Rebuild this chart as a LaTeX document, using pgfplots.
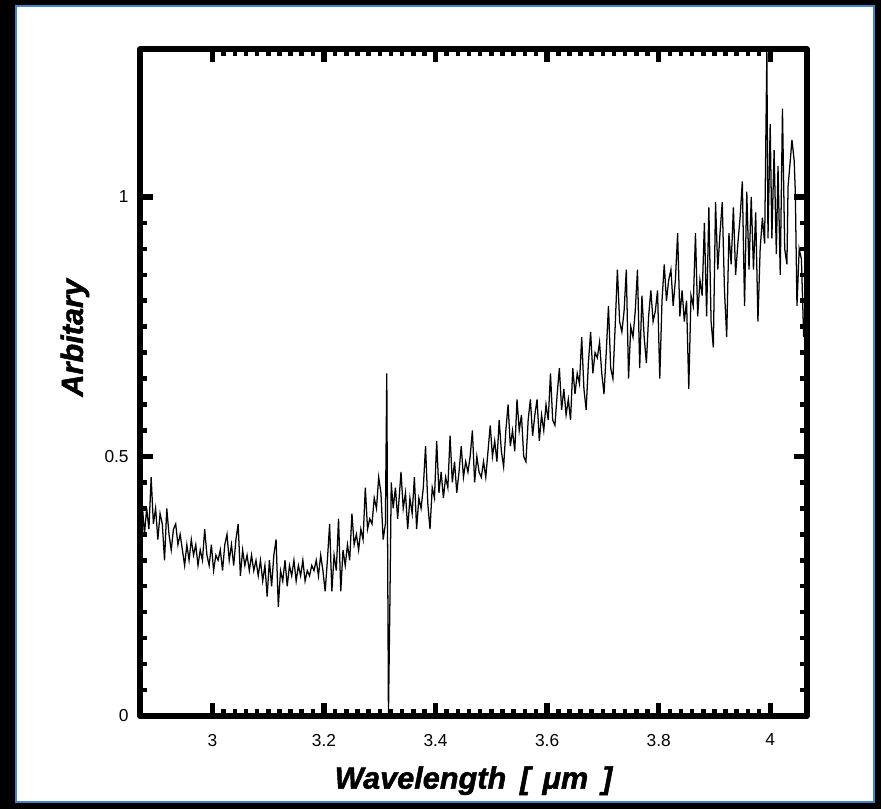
\documentclass[border=0pt]{standalone}
\usepackage{pgfplots}
\pgfplotsset{compat=1.18}
\usepackage{fontspec}
\setmainfont{Liberation Sans}
\newfontfamily\heavyfont{Liberation Sans Bold Italic}[FakeBold=1.5]
\definecolor{frameblue}{RGB}{74,128,196}

\begin{document}
\begin{tikzpicture}[x=0.75pt,y=0.75pt]
% outer frame
\fill[black] (0,0) rectangle (881,809);
\fill[white] (15,6) rectangle (874,803);
\draw[frameblue, line width=1.5pt] (15.5,6.5) rectangle (873.5,802.5);
\begin{axis}[
    at={(105pt,69.75pt)}, anchor=south west,
    width=500.25pt, height=500.25pt, scale only axis,
    xmin=2.87, xmax=4.066,
    ymin=0, ymax=1.285,
    xtick={3,3.2,3.4,3.6,3.8,4},
    xticklabels={3,3.2,3.4,3.6,3.8,4},
    ytick={0,0.5,1},
    yticklabels={0,0.5,1},
    minor x tick num=9,
    minor y tick num=9,
    tick align=inside,
    xtick pos=both, ytick pos=both,
    major tick length=10pt,
    minor tick length=5pt,
    major tick style={black, line width=4pt},
    minor tick style={black, line width=3.4pt},
    axis line style={black, line width=4pt, line join=round},
    /pgf/number format/assume math mode=true,
    tick label style={font=\fontsize{13}{15}\selectfont},
    xticklabel style={yshift=-10pt},
    yticklabel style={xshift=-5pt},
    xlabel={Wavelength\hspace{0.45em}[\hspace{0.4em}μm\hspace{0.45em}]},
    ylabel={Arbitary},
    xlabel style={at={(axis description cs:0.5,0)}, anchor=base, yshift=-54.5pt,
                  font=\heavyfont\fontsize{23}{26}\selectfont},
    ylabel style={at={(axis description cs:-0.0975,0.567)}, anchor=center,
                  font=\heavyfont\fontsize{23}{26}\selectfont},
]
\addplot[black, line width=0.95pt] coordinates {
(2.870,0.37) (2.874,0.41) (2.878,0.35) (2.882,0.40) (2.886,0.36) (2.890,0.46) (2.894,0.37) (2.898,0.40) (2.902,0.34) (2.906,0.39)
(2.910,0.37) (2.914,0.30) (2.918,0.40) (2.922,0.35) (2.926,0.32) (2.930,0.36) (2.934,0.37) (2.938,0.33) (2.942,0.35) (2.946,0.32)
(2.950,0.29) (2.954,0.33) (2.958,0.30) (2.962,0.34) (2.966,0.31) (2.970,0.33) (2.974,0.29) (2.978,0.32) (2.982,0.30) (2.986,0.36)
(2.990,0.31) (2.994,0.29) (2.998,0.33) (3.002,0.28) (3.006,0.31) (3.010,0.30) (3.014,0.32) (3.018,0.28) (3.022,0.33) (3.026,0.35)
(3.030,0.30) (3.034,0.33) (3.038,0.29) (3.042,0.34) (3.046,0.37) (3.050,0.27) (3.054,0.32) (3.058,0.29) (3.062,0.31) (3.066,0.28)
(3.070,0.31) (3.074,0.28) (3.078,0.30) (3.082,0.27) (3.086,0.30) (3.090,0.26) (3.094,0.29) (3.098,0.23) (3.102,0.30) (3.106,0.25)
(3.110,0.31) (3.114,0.34) (3.118,0.21) (3.122,0.28) (3.126,0.26) (3.130,0.30) (3.134,0.25) (3.138,0.29) (3.142,0.27) (3.146,0.30)
(3.150,0.26) (3.154,0.29) (3.158,0.27) (3.162,0.30) (3.166,0.26) (3.170,0.28) (3.174,0.27) (3.178,0.29) (3.182,0.28) (3.186,0.30)
(3.190,0.27) (3.194,0.31) (3.198,0.28) (3.202,0.24) (3.206,0.30) (3.210,0.37) (3.214,0.24) (3.218,0.31) (3.222,0.28) (3.226,0.38)
(3.230,0.24) (3.234,0.32) (3.238,0.29) (3.242,0.33) (3.246,0.30) (3.250,0.39) (3.254,0.33) (3.258,0.35) (3.262,0.32) (3.266,0.36)
(3.270,0.34) (3.274,0.44) (3.278,0.36) (3.282,0.38) (3.286,0.37) (3.290,0.42) (3.294,0.40) (3.298,0.46) (3.302,0.43) (3.306,0.34)
(3.310,0.37) (3.3125,0.66) (3.3155,0.00) (3.318,0.21) (3.3205,0.45) (3.324,0.40)
(3.328,0.44) (3.332,0.38) (3.338,0.47) (3.342,0.40) (3.346,0.43) (3.350,0.36) (3.354,0.42) (3.358,0.39) (3.362,0.46)
(3.366,0.36) (3.370,0.42) (3.374,0.40) (3.378,0.44) (3.382,0.52) (3.386,0.41) (3.390,0.36) (3.394,0.44) (3.398,0.42) (3.402,0.53)
(3.406,0.43) (3.410,0.47) (3.414,0.42) (3.418,0.46) (3.422,0.44) (3.426,0.54) (3.430,0.45) (3.434,0.49) (3.438,0.43) (3.442,0.47)
(3.446,0.52) (3.450,0.46) (3.454,0.49) (3.458,0.47) (3.462,0.50) (3.466,0.55) (3.470,0.45) (3.474,0.50) (3.478,0.47) (3.482,0.46)
(3.486,0.49) (3.490,0.46) (3.494,0.51) (3.498,0.56) (3.502,0.50) (3.506,0.53) (3.510,0.49) (3.514,0.57) (3.518,0.51) (3.522,0.48)
(3.526,0.55) (3.530,0.60) (3.534,0.52) (3.538,0.55) (3.542,0.51) (3.546,0.61) (3.550,0.55) (3.554,0.58) (3.558,0.50) (3.562,0.49)
(3.566,0.57) (3.570,0.61) (3.574,0.54) (3.578,0.58) (3.582,0.61) (3.586,0.53) (3.590,0.58) (3.594,0.55) (3.598,0.60) (3.602,0.57)
(3.606,0.66) (3.610,0.57) (3.614,0.56) (3.618,0.62) (3.622,0.67) (3.626,0.59) (3.630,0.63) (3.634,0.58) (3.638,0.61) (3.642,0.57)
(3.646,0.67) (3.650,0.62) (3.654,0.66) (3.658,0.64) (3.662,0.73) (3.666,0.63) (3.670,0.59) (3.674,0.68) (3.678,0.74) (3.682,0.66)
(3.686,0.70) (3.690,0.69) (3.694,0.72) (3.698,0.66) (3.702,0.62) (3.706,0.70) (3.710,0.79) (3.714,0.67) (3.718,0.65) (3.722,0.75)
(3.726,0.86) (3.730,0.76) (3.734,0.74) (3.738,0.78) (3.742,0.86) (3.746,0.65) (3.750,0.75) (3.754,0.73) (3.758,0.78) (3.762,0.86)
(3.766,0.67) (3.770,0.81) (3.774,0.73) (3.778,0.68) (3.782,0.77) (3.786,0.82) (3.790,0.76) (3.794,0.78) (3.798,0.82) (3.802,0.65)
(3.806,0.80) (3.810,0.87) (3.814,0.80) (3.818,0.84) (3.822,0.86) (3.826,0.79)
(3.830,0.84) (3.834,0.93) (3.838,0.77) (3.842,0.82) (3.846,0.76) (3.850,0.80) (3.854,0.63) (3.858,0.81) (3.862,0.79) (3.866,0.93)
(3.870,0.77) (3.874,0.84) (3.878,0.81) (3.882,0.95) (3.886,0.77) (3.890,0.98) (3.894,0.76) (3.898,0.71) (3.902,0.99) (3.906,0.86)
(3.910,0.93) (3.914,0.99) (3.918,0.82) (3.922,0.73) (3.926,0.93) (3.930,0.87) (3.934,0.98) (3.938,0.85) (3.942,0.91) (3.946,0.96)
(3.950,1.03) (3.954,0.79) (3.958,1.01) (3.962,0.86) (3.966,1.00) (3.970,0.86) (3.974,0.97) (3.978,0.76) (3.982,0.90) (3.986,0.96)
(3.990,0.91) (3.994,1.28) (3.996,0.92) (4.000,1.14) (4.003,0.92) (4.007,1.09) (4.011,0.89) (4.014,1.06) (4.018,0.85) (4.022,1.17)
(4.026,0.90) (4.030,0.87) (4.032,1.02) (4.036,1.07) (4.039,1.11) (4.043,1.07) (4.045,1.01) (4.048,0.79) (4.052,0.90) (4.056,0.88)
(4.060,0.73) (4.066,0.82)
};
\end{axis}
\end{tikzpicture}
\end{document}
